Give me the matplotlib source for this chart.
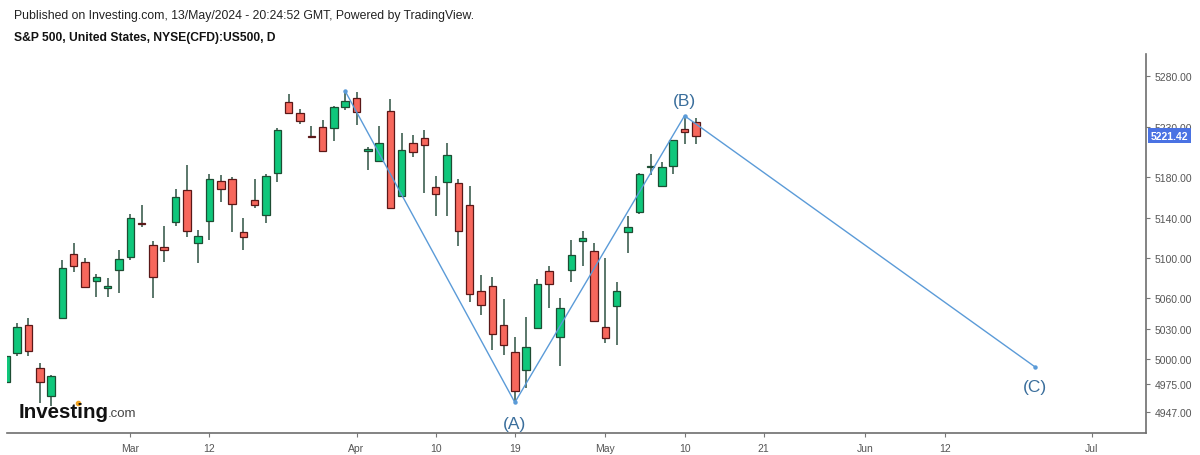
import numpy as np
import pandas as pd
import matplotlib
matplotlib.use('Agg')
from matplotlib import pyplot as plt
import matplotlib.transforms as mtransforms

plt.rcParams['font.family'] = ['Liberation Sans', 'DejaVu Sans']

# ---- daily candles, S&P 500 CFD ----
holidays = ['2024-02-19', '2024-03-29']
past = [d for d in pd.bdate_range('2024-02-14', '2024-05-13') if d.strftime('%Y-%m-%d') not in holidays]
future = list(pd.bdate_range('2024-05-14', '2024-07-31'))
dates = past + future

opens = [4977.3, 5005.5, 5033.5, 4990.6, 4963.5, 5041.0, 5103.9, 5095.7, 5077.4, 5069.9, 5088.3,
         5101.2, 5134.8, 5112.8, 5111.1, 5135.3, 5167.0, 5114.8, 5136.6, 5176.0, 5177.9, 5126.0,
         5157.7, 5142.3, 5184.5, 5254.8, 5243.9, 5220.8, 5230.1, 5228.5, 5249.3,
         5258.2, 5206.3, 5196.4, 5245.6, 5161.7, 5213.6, 5218.9, 5170.6, 5175.3, 5174.3, 5152.5,
         5067.2, 5071.9, 5033.5, 5007.1, 4988.6, 5030.6, 5087.3, 5021.3, 5087.7, 5116.8, 5106.6,
         5031.9, 5052.1, 5126.0, 5145.2, 5190.1, 5171.6, 5191.4, 5227.5, 5235.0]
highs = [5005.0, 5035.2, 5040.8, 4995.6, 4984.0, 5098.0, 5114.8, 5100.2, 5084.1, 5079.8, 5107.9,
         5143.5, 5152.5, 5117.1, 5131.3, 5168.3, 5192.1, 5127.7, 5182.9, 5181.9, 5179.9, 5139.6,
         5178.2, 5183.2, 5228.5, 5262.5, 5247.6, 5231.0, 5236.4, 5250.3, 5265.4,
         5264.7, 5210.2, 5230.4, 5257.5, 5223.8, 5221.8, 5226.8, 5180.9, 5213.9, 5178.2, 5171.0,
         5083.1, 5081.4, 5059.3, 5021.3, 5041.8, 5079.1, 5092.3, 5060.0, 5117.8, 5127.0, 5114.5,
         5099.6, 5076.4, 5141.9, 5184.0, 5203.0, 5194.8, 5217.0, 5241.0, 5238.4]
lows = [4972.0, 5002.5, 5002.5, 4956.2, 4953.6, 5039.5, 5086.0, 5070.5, 5061.0, 5061.6, 5065.2,
        5098.0, 5131.0, 5060.0, 5095.7, 5132.0, 5121.0, 5094.7, 5117.8, 5155.7, 5126.0, 5108.2,
        5149.2, 5134.6, 5175.0, 5242.6, 5232.7, 5219.2, 5205.0, 5216.2, 5246.9,
        5232.0, 5187.1, 5196.0, 5149.0, 5160.0, 5200.3, 5164.1, 5141.9, 5141.9, 5112.1, 5056.0,
        5043.4, 5009.1, 5003.8, 4956.9, 4970.8, 5030.0, 5050.4, 4992.6, 5076.4, 5092.3, 5037.0,
        5015.7, 5014.0, 5104.6, 5144.0, 5182.5, 5170.0, 5183.2, 5212.6, 5213.2]
closes = [5002.5, 5031.6, 5007.5, 4976.8, 4983.3, 5090.0, 5091.7, 5071.5, 5080.8, 5072.5, 5099.2,
          5139.3, 5134.0, 5080.8, 5107.9, 5160.7, 5126.4, 5121.4, 5177.9, 5168.0, 5153.2, 5120.4,
          5152.2, 5180.9, 5226.8, 5243.3, 5235.4, 5220.0, 5205.7, 5249.3, 5255.2,
          5244.6, 5208.0, 5213.6, 5149.8, 5206.7, 5204.7, 5211.6, 5163.1, 5201.7, 5126.7, 5064.3,
          5053.7, 5024.6, 5013.7, 4968.4, 5012.0, 5073.9, 5074.5, 5050.7, 5102.9, 5119.5, 5037.8,
          5020.7, 5066.9, 5130.4, 5183.2, 5190.8, 5189.8, 5216.9, 5224.5, 5221.42]
last_price = 5221.42

# ---- wave drawing ----
wave_dates = ['2024-03-28', '2024-04-19', '2024-05-10', '2024-06-24']
wave_values = [5265.4, 4956.9, 5241.0, 4992.0]
wave_labels = ['', '(A)', '(B)', '(C)']

# ---- axes ticks ----
price_ticks = [4947, 4975, 5000, 5030, 5060, 5100, 5140, 5180, 5230, 5280]
tick_dates = ['2024-03-01', '2024-03-12', '2024-04-01', '2024-04-10', '2024-04-19', '2024-05-01',
              '2024-05-10', '2024-05-21', '2024-06-03', '2024-06-12', '2024-07-01']
tick_labels = ['Mar', '12', 'Apr', '10', '19', 'May', '10', '21', 'Jun', '12', 'Jul']

pos = {d.strftime('%Y-%m-%d'): i for i, d in enumerate(dates)}
x0 = pos['2024-03-01']
def xp(d):
    return pos[d] - x0

fig = plt.figure(figsize=(12, 4.56), dpi=100)
ax = fig.add_axes([7/1200, 22/456, 1139/1200, 379/456])

up_c, up_edge = '#0fc77b', '#1d4d33'
dn_c, dn_edge = '#f7675c', '#5a1818'
wick_c = '#2e5242'
w = 0.66
n = len(opens)
xs = np.arange(n) - x0
for i in range(n):
    o, h, l, c = opens[i], highs[i], lows[i], closes[i]
    up = c >= o
    ax.vlines(xs[i], l, h, color=wick_c, lw=1.1, zorder=2)
    body = max(abs(c - o), 0.9)
    ax.bar(xs[i], body, bottom=min(o, c), width=w,
           color=up_c if up else dn_c, edgecolor=up_edge if up else dn_edge,
           linewidth=0.9, zorder=3)

wx = [xp(d) for d in wave_dates]
ax.plot(wx, wave_values, color='#5b9bd8', lw=1.0, zorder=4)
ax.plot(wx, wave_values, 'o', ms=2.2, color='#5b9bd8', zorder=4)
offs = [0, -15, 11, -14]
for x, v, lab, off in zip(wx, wave_values, wave_labels, offs):
    if lab:
        ax.annotate(lab, (x, v), xytext=(0, off), textcoords='offset points',
                    ha='center', va='center', fontsize=12.5, color='#3a6e9c', zorder=5)

ax.set_xlim(-10.9, 89.8)
ax.set_ylim(4926.6, 5302.2)

for s in ['left', 'top']:
    ax.spines[s].set_visible(False)
for s in ['right', 'bottom']:
    ax.spines[s].set_color('#6e6e6e')
    ax.spines[s].set_linewidth(1.2)

ax.yaxis.tick_right()
ax.set_yticks(price_ticks)
ax.set_yticklabels(['%.2f' % t for t in price_ticks])
ax.set_xticks([xp(d) for d in tick_dates])
ax.set_xticklabels(tick_labels)
ax.tick_params(axis='both', length=3, width=0.8, color='#777777', labelsize=7.5,
               labelcolor='#555555')
ax.tick_params(axis='x', pad=4)
ax.tick_params(axis='y', pad=3)

# last price tag
tr = mtransforms.blended_transform_factory(ax.transAxes, ax.transData)
ax.text(1.004, last_price, '%.2f' % last_price, transform=tr, ha='left', va='center',
        fontsize=7.5, color='white', fontweight='bold', zorder=10, clip_on=False,
        bbox=dict(boxstyle='square,pad=0.25', fc='#4a72e3', ec='none'))

# header
fig.text(14/1200, 1 - 16/456, 'Published on Investing.com, 13/May/2024 - 20:24:52 GMT, Powered by TradingView.',
         fontsize=8.85, color='#222222', va='center', ha='left')
fig.text(14/1200, 1 - 38/456, 'S&P 500, United States, NYSE(CFD):US500, D',
         fontsize=8.75, color='#111111', fontweight='bold', va='center', ha='left')

# watermark logo
fig.text(19/1200, 1 - 413/456, 'Investing', fontsize=14.8, fontweight='bold',
             color='#111111', va='center', ha='left')
fig.text(108/1200, 1 - 414/456, '.com', fontsize=9.5, color='#444444', va='center', ha='left')
fig.add_artist(plt.Line2D([78/1200], [1 - 404/456], marker='o', ms=3, color='#f5a623',
                          transform=fig.transFigure))

fig.savefig('out.png', dpi=100)
